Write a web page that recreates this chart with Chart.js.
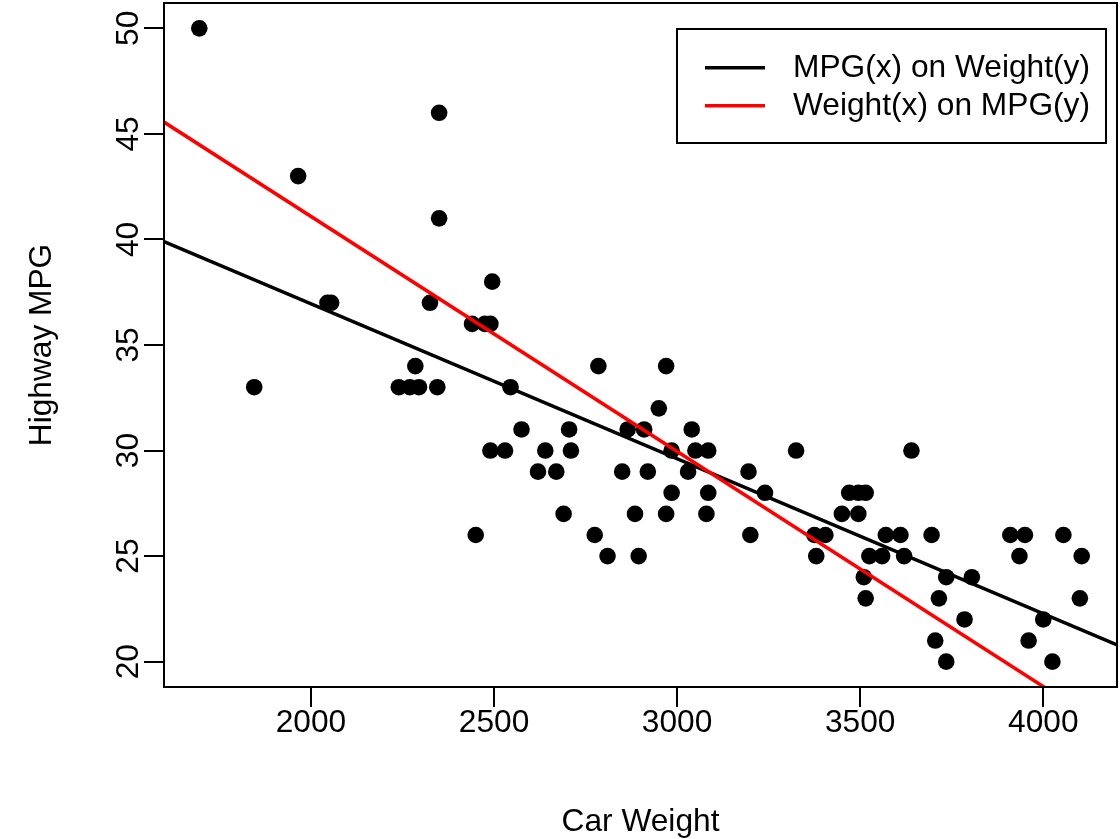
<!DOCTYPE html>
<html>
<head>
<meta charset="utf-8">
<script src="https://cdn.jsdelivr.net/npm/chart.js@4.4.1/dist/chart.umd.min.js"></script>
<style>
  html, body { margin: 0; padding: 0; background: #ffffff; }
  #wrap { width: 1120px; height: 839px; }
  canvas { display: block; }
</style>
</head>
<body>
<div id="wrap"><canvas id="c" width="1120" height="839"></canvas></div>
<script>
// ---- Data ----
const carWeight = [
  1695, 1845, 1965, 2045, 2055, 2240, 2270, 2285, 2295, 2325,
  2345, 2350, 2350, 2440, 2450, 2475, 2490, 2490, 2495, 2530,
  2545, 2575, 2620, 2640, 2670, 2690, 2705, 2710, 2775, 2785,
  2810, 2850, 2865, 2885, 2895, 2910, 2920, 2950, 2970, 2970,
  2985, 2985, 3030, 3040, 3050, 3080, 3085, 3085, 3195, 3200,
  3240, 3325, 3375, 3380, 3405, 3450, 3470, 3495, 3495, 3510,
  3515, 3515, 3525, 3560, 3570, 3610, 3620, 3640, 3695, 3705,
  3715, 3735, 3735, 3785, 3805, 3910, 3935, 3950, 3960, 4000,
  4025, 4055, 4100, 4105
];
const highwayMPG = [
  50, 33, 43, 37, 37, 33, 33, 34, 33, 37,
  33, 46, 41, 36, 26, 36, 36, 30, 38, 30,
  33, 31, 29, 30, 29, 27, 31, 30, 26, 34,
  25, 29, 31, 27, 25, 31, 29, 32, 34, 27,
  30, 28, 29, 31, 30, 27, 30, 28, 29, 26,
  28, 30, 26, 25, 26, 27, 28, 28, 27, 24,
  28, 23, 25, 25, 26, 26, 25, 30, 26, 21,
  23, 24, 20, 22, 24, 26, 25, 26, 21, 22,
  20, 26, 23, 25
];
// fitted lines: end points across the x range
const fitX = [1598.6, 4201.4];
const fitMpgOnWeight = [39.9, 20.8];      // black
const fitWeightOnMpg = [45.56, 16.58];    // red
const seriesNames = ["MPG(x) on Weight(y)", "Weight(x) on MPG(y)"];
const xTicks = [2000, 2500, 3000, 3500, 4000];
const yTicks = [20, 25, 30, 35, 40, 45, 50];
const xRange = [1598.6, 4201.4];
const yRange = [18.8, 51.2];

const FONT = "'Liberation Sans', Arial, Helvetica, sans-serif";
const FS = 31.7;
Chart.defaults.font.family = FONT;
Chart.defaults.font.size = FS;
Chart.defaults.color = '#000';

const pts = carWeight.map((w, i) => ({ x: w, y: highwayMPG[i] }));
const lineData = (ys) => fitX.map((x, i) => ({ x: x, y: ys[i] }));

const boxPlugin = {
  id: 'rbox',
  afterDraw(chart) {
    const { ctx, chartArea: a } = chart;
    ctx.save();
    ctx.strokeStyle = '#000';
    ctx.lineWidth = 2;
    ctx.strokeRect(a.left, a.top, a.right - a.left, a.bottom - a.top);
    // legend
    const L = { left: 677, top: 29, right: 1106, bottom: 143 };
    ctx.fillStyle = '#fff';
    ctx.fillRect(L.left, L.top, L.right - L.left, L.bottom - L.top);
    ctx.strokeRect(L.left, L.top, L.right - L.left, L.bottom - L.top);
    const ds = chart.data.datasets.filter(d => d.isFit).sort((p, q) => p.legendIndex - q.legendIndex);
    ds.forEach((d, i) => {
      const y = 67.7 + i * 38;
      ctx.strokeStyle = d.borderColor;
      ctx.lineWidth = 3.5;
      ctx.beginPath();
      ctx.moveTo(705, y);
      ctx.lineTo(765, y);
      ctx.stroke();
      ctx.fillStyle = '#000';
      ctx.font = FS + 'px ' + FONT;
      ctx.textBaseline = 'middle';
      ctx.textAlign = 'left';
      ctx.fillText(d.label, 793, y + 1);
    });
    ctx.restore();
  }
};

new Chart(document.getElementById('c'), {
  type: 'scatter',
  data: {
    datasets: [
      {
        label: seriesNames[1], isFit: true, legendIndex: 1, type: 'line', data: lineData(fitWeightOnMpg),
        borderColor: '#ff0000', borderWidth: 3.5, pointRadius: 0, fill: false,
        tension: 0, order: 0, clip: 0
      },
      {
        label: seriesNames[0], isFit: true, legendIndex: 0, type: 'line', data: lineData(fitMpgOnWeight),
        borderColor: '#000000', borderWidth: 3.5, pointRadius: 0, fill: false,
        tension: 0, order: 1, clip: 0
      },
      {
        label: 'cars', data: pts, backgroundColor: '#000', borderColor: '#000',
        pointRadius: 8.3, borderWidth: 0, pointStyle: 'circle', order: 2, clip: 0
      }
    ]
  },
  options: {
    responsive: false,
    devicePixelRatio: 1,
    animation: false,
    events: [],
    layout: { autoPadding: false, padding: { top: 3, right: 3, left: 0, bottom: 0 } },
    plugins: { legend: { display: false }, tooltip: { enabled: false } },
    scales: {
      x: {
        type: 'linear', position: 'bottom',
        min: xRange[0], max: xRange[1],
        afterBuildTicks: (s) => { s.ticks = xTicks.map(v => ({ value: v })); },
        afterFit: (s) => { s.height = 152; s.paddingLeft = 0; s.paddingRight = 0; },
        ticks: { callback: (v) => String(v), padding: -3, maxRotation: 0, minRotation: 0, color: '#000' },
        grid: { display: true, drawOnChartArea: false, drawTicks: true, tickLength: 20, color: '#000', lineWidth: 2 },
        border: { display: true, color: '#000', width: 2 },
        title: { display: true, text: 'Car Weight', color: '#000', font: { size: FS, lineHeight: 1 }, padding: { top: 0, bottom: 1 } }
      },
      y: {
        type: 'linear', position: 'left',
        min: yRange[0], max: yRange[1],
        afterBuildTicks: (s) => { s.ticks = yTicks.map(v => ({ value: v })); },
        afterFit: (s) => { s.width = 164; s.paddingTop = 0; s.paddingBottom = 0; },
        ticks: { callback: (v) => String(v), padding: -3, minRotation: 90, maxRotation: 90, crossAlign: 'center', color: '#000' },
        grid: { display: true, drawOnChartArea: false, drawTicks: true, tickLength: 20, color: '#000', lineWidth: 2 },
        border: { display: true, color: '#000', width: 2 },
        title: { display: true, text: 'Highway MPG', color: '#000', font: { size: FS, lineHeight: 1 }, padding: { top: 26, bottom: 0 } }
      }
    }
  },
  plugins: [boxPlugin]
});
</script>
</body>
</html>
